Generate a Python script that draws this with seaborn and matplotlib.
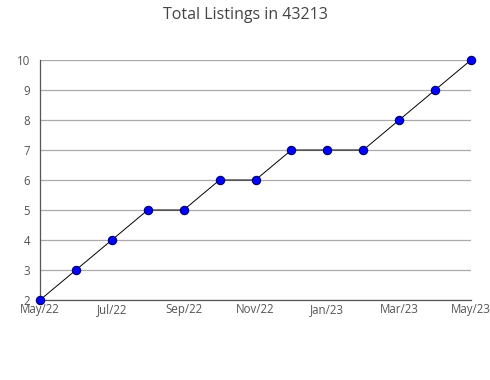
import matplotlib
matplotlib.use("Agg")
import matplotlib.pyplot as plt
import seaborn as sns
import pandas as pd
from matplotlib.ticker import MultipleLocator

months = ["May/22", "Jun/22", "Jul/22", "Aug/22", "Sep/22", "Oct/22", "Nov/22",
          "Dec/22", "Jan/23", "Feb/23", "Mar/23", "Apr/23", "May/23"]
listings = [2, 3, 4, 5, 5, 6, 6, 7, 7, 7, 8, 9, 10]
tick_labels = ["May/22", "Jul/22", "Sep/22", "Nov/22", "Jan/23", "Mar/23", "May/23"]

sns.set_style("white")
plt.rcParams['font.family'] = ['Open Sans', 'DejaVu Sans']

df = pd.DataFrame({"idx": range(len(months)), "month": months, "value": listings})

fig = plt.figure(figsize=(4.9, 3.8), dpi=100)
ax = fig.add_axes([40/490, 80/380, (471-40)/490, 240/380])

sns.lineplot(data=df, x="idx", y="value", ax=ax, color="black", linewidth=0.7,
             marker="o", markersize=6, markerfacecolor="#0000ff",
             markeredgecolor="#00006e", markeredgewidth=0.8, zorder=3,
             clip_on=False)

ax.set_xlim(0, len(months) - 1)
ax.set_ylim(2, 10)
ax.set_xticks([months.index(t) for t in tick_labels])
ax.set_xticklabels(tick_labels)
ax.xaxis.set_minor_locator(MultipleLocator(1))
ax.yaxis.set_major_locator(MultipleLocator(1))
ax.yaxis.set_minor_locator(MultipleLocator(0.5))
ax.grid(axis="y", which="major", color="#aaaaaa", linewidth=0.9)
ax.set_axisbelow(True)
ax.set_xlabel("")
ax.set_ylabel("")
for s in ["top", "right"]:
    ax.spines[s].set_visible(False)
for s in ["left", "bottom"]:
    ax.spines[s].set_color("#555555")
    ax.spines[s].set_linewidth(0.9)
ax.tick_params(axis="both", which="both", direction="in", colors="#555555",
               labelcolor="#555555", labelsize=8.3, length=4, width=0.8)
ax.tick_params(axis="y", which="major", length=0, pad=7)
ax.tick_params(axis="x", which="major", length=4, pad=2)
ax.tick_params(axis="x", which="minor", length=4)

fig.suptitle("Total Listings in 43213", y=1 - 15/380, va="center",
             fontsize=11.5, color="#444444")
fig.savefig("out.png", dpi=100)
